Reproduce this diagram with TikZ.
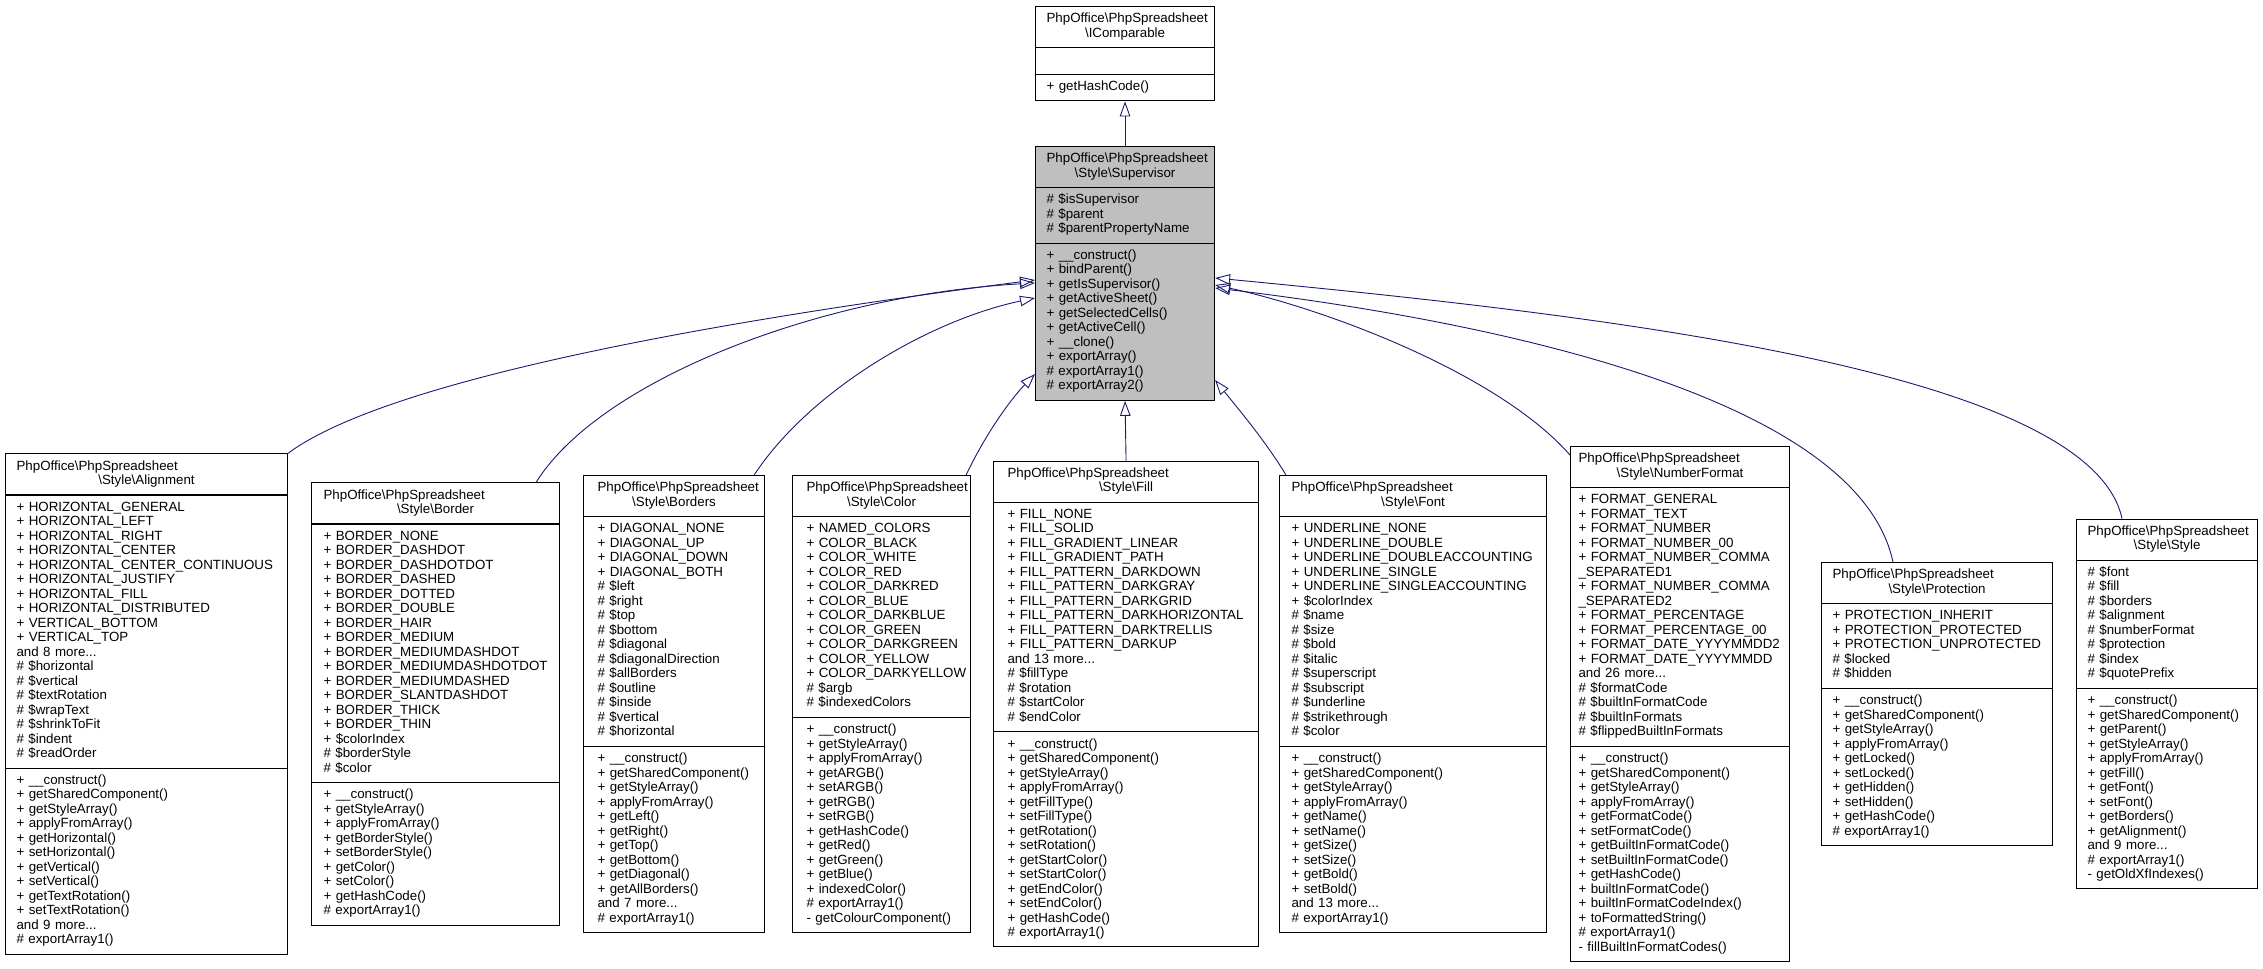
\documentclass[tikz,border=0pt]{standalone}
\usepackage{fontspec}
\setmainfont{Liberation Sans}
\usepackage{tikz}
\usetikzlibrary{shapes.multipart,arrows.meta}
\definecolor{edgeblue}{HTML}{191970}
\definecolor{basegray}{HTML}{BFBFBF}

\newcommand{\members}[1]{\begin{tabular}{@{}l@{}}#1\end{tabular}}
\newcommand{\classname}[1]{\mbox{\strut PhpOffice\textbackslash PhpSpreadsheet}\par\hbox to\hsize{\hss\strut\textbackslash #1\hss}}

\begin{document}
\begin{tikzpicture}[x=1pt,y=-1pt]

	\tikzstyle{classbox}=[draw,line width=1.1pt,rectangle split,rectangle split parts=3,inner ysep=5.5pt,font=\fontsize{13.33}{14.5}\selectfont]
	\tikzstyle{inherit}=[draw=edgeblue,line width=0.9pt,-{Triangle[open,length=15pt,width=10.5pt]}]

	\useasboundingbox (0,0) rectangle (2263,969);

	% base classes
	\node[classbox,anchor=north west,inner xsep=11pt,text width=157pt] (icomparable) at (1035,6)
		{\classname{IComparable}\nodepart{two}\strut\nodepart{three}\members{+ getHashCode()}};

	\node[classbox,fill=basegray,anchor=north west,inner xsep=11pt,text width=157pt] (supervisor) at (1035,146)
		{\classname{Style\textbackslash Supervisor}
		\nodepart{two}\members{\# \$isSupervisor\\\# \$parent\\\# \$parentPropertyName}
		\nodepart{three}\members{+ \_\_construct()\\+ bindParent()\\+ getIsSupervisor()\\+ getActiveSheet()\\+ getSelectedCells()\\+ getActiveCell()\\+ \_\_clone()\\+ exportArray()\\\# exportArray1()\\\# exportArray2()}};

	% derived classes
	\node[classbox,anchor=west,inner xsep=11pt,text width=260pt] (alignment) at (5,704)
		{\classname{Style\textbackslash Alignment}
		\nodepart{two}\members{+ HORIZONTAL\_GENERAL\\+ HORIZONTAL\_LEFT\\+ HORIZONTAL\_RIGHT\\+ HORIZONTAL\_CENTER\\+ HORIZONTAL\_CENTER\_CONTINUOUS\\+ HORIZONTAL\_JUSTIFY\\+ HORIZONTAL\_FILL\\+ HORIZONTAL\_DISTRIBUTED\\+ VERTICAL\_BOTTOM\\+ VERTICAL\_TOP\\and 8 more...\\\# \$horizontal\\\# \$vertical\\\# \$textRotation\\\# \$wrapText\\\# \$shrinkToFit\\\# \$indent\\\# \$readOrder}
		\nodepart{three}\members{+ \_\_construct()\\+ getSharedComponent()\\+ getStyleArray()\\+ applyFromArray()\\+ getHorizontal()\\+ setHorizontal()\\+ getVertical()\\+ setVertical()\\+ getTextRotation()\\+ setTextRotation()\\and 9 more...\\\# exportArray1()}};

	\node[classbox,anchor=west,inner xsep=12pt,text width=224pt] (border) at (311,704)
		{\classname{Style\textbackslash Border}
		\nodepart{two}\members{+ BORDER\_NONE\\+ BORDER\_DASHDOT\\+ BORDER\_DASHDOTDOT\\+ BORDER\_DASHED\\+ BORDER\_DOTTED\\+ BORDER\_DOUBLE\\+ BORDER\_HAIR\\+ BORDER\_MEDIUM\\+ BORDER\_MEDIUMDASHDOT\\+ BORDER\_MEDIUMDASHDOTDOT\\+ BORDER\_MEDIUMDASHED\\+ BORDER\_SLANTDASHDOT\\+ BORDER\_THICK\\+ BORDER\_THIN\\+ \$colorIndex\\\# \$borderStyle\\\# \$color}
		\nodepart{three}\members{+ \_\_construct()\\+ getStyleArray()\\+ applyFromArray()\\+ getBorderStyle()\\+ setBorderStyle()\\+ getColor()\\+ setColor()\\+ getHashCode()\\\# exportArray1()}};

	\node[classbox,anchor=west,inner xsep=14pt,text width=153pt] (borders) at (583,704)
		{\classname{Style\textbackslash Borders}
		\nodepart{two}\members{+ DIAGONAL\_NONE\\+ DIAGONAL\_UP\\+ DIAGONAL\_DOWN\\+ DIAGONAL\_BOTH\\\# \$left\\\# \$right\\\# \$top\\\# \$bottom\\\# \$diagonal\\\# \$diagonalDirection\\\# \$allBorders\\\# \$outline\\\# \$inside\\\# \$vertical\\\# \$horizontal}
		\nodepart{three}\members{+ \_\_construct()\\+ getSharedComponent()\\+ getStyleArray()\\+ applyFromArray()\\+ getLeft()\\+ getRight()\\+ getTop()\\+ getBottom()\\+ getDiagonal()\\+ getAllBorders()\\and 7 more...\\\# exportArray1()}};

	\node[classbox,anchor=west,inner xsep=14pt,text width=150pt] (color) at (792,704)
		{\classname{Style\textbackslash Color}
		\nodepart{two}\members{+ NAMED\_COLORS\\+ COLOR\_BLACK\\+ COLOR\_WHITE\\+ COLOR\_RED\\+ COLOR\_DARKRED\\+ COLOR\_BLUE\\+ COLOR\_DARKBLUE\\+ COLOR\_GREEN\\+ COLOR\_DARKGREEN\\+ COLOR\_YELLOW\\+ COLOR\_DARKYELLOW\\\# \$argb\\\# \$indexedColors}
		\nodepart{three}\members{+ \_\_construct()\\+ getStyleArray()\\+ applyFromArray()\\+ getARGB()\\+ setARGB()\\+ getRGB()\\+ setRGB()\\+ getHashCode()\\+ getRed()\\+ getGreen()\\+ getBlue()\\+ indexedColor()\\\# exportArray1()\\- getColourComponent()}};

	\node[classbox,anchor=west,inner xsep=14pt,text width=237pt] (fill) at (993,704)
		{\classname{Style\textbackslash Fill}
		\nodepart{two}\members{+ FILL\_NONE\\+ FILL\_SOLID\\+ FILL\_GRADIENT\_LINEAR\\+ FILL\_GRADIENT\_PATH\\+ FILL\_PATTERN\_DARKDOWN\\+ FILL\_PATTERN\_DARKGRAY\\+ FILL\_PATTERN\_DARKGRID\\+ FILL\_PATTERN\_DARKHORIZONTAL\\+ FILL\_PATTERN\_DARKTRELLIS\\+ FILL\_PATTERN\_DARKUP\\and 13 more...\\\# \$fillType\\\# \$rotation\\\# \$startColor\\\# \$endColor}
		\nodepart{three}\members{+ \_\_construct()\\+ getSharedComponent()\\+ getStyleArray()\\+ applyFromArray()\\+ getFillType()\\+ setFillType()\\+ getRotation()\\+ setRotation()\\+ getStartColor()\\+ setStartColor()\\+ getEndColor()\\+ setEndColor()\\+ getHashCode()\\\# exportArray1()}};

	\node[classbox,anchor=west,inner xsep=12pt,text width=243pt] (font) at (1279,704)
		{\classname{Style\textbackslash Font}
		\nodepart{two}\members{+ UNDERLINE\_NONE\\+ UNDERLINE\_DOUBLE\\+ UNDERLINE\_DOUBLEACCOUNTING\\+ UNDERLINE\_SINGLE\\+ UNDERLINE\_SINGLEACCOUNTING\\+ \$colorIndex\\\# \$name\\\# \$size\\\# \$bold\\\# \$italic\\\# \$superscript\\\# \$subscript\\\# \$underline\\\# \$strikethrough\\\# \$color}
		\nodepart{three}\members{+ \_\_construct()\\+ getSharedComponent()\\+ getStyleArray()\\+ applyFromArray()\\+ getName()\\+ setName()\\+ getSize()\\+ setSize()\\+ getBold()\\+ setBold()\\and 13 more...\\\# exportArray1()}};

	\node[classbox,anchor=west,inner xsep=8pt,text width=203pt] (numberformat) at (1570,704)
		{\classname{Style\textbackslash NumberFormat}
		\nodepart{two}\members{+ FORMAT\_GENERAL\\+ FORMAT\_TEXT\\+ FORMAT\_NUMBER\\+ FORMAT\_NUMBER\_00\\+ FORMAT\_NUMBER\_COMMA\\\_SEPARATED1\\+ FORMAT\_NUMBER\_COMMA\\\_SEPARATED2\\+ FORMAT\_PERCENTAGE\\+ FORMAT\_PERCENTAGE\_00\\+ FORMAT\_DATE\_YYYYMMDD2\\+ FORMAT\_DATE\_YYYYMMDD\\and 26 more...\\\# \$formatCode\\\# \$builtInFormatCode\\\# \$builtInFormats\\\# \$flippedBuiltInFormats}
		\nodepart{three}\members{+ \_\_construct()\\+ getSharedComponent()\\+ getStyleArray()\\+ applyFromArray()\\+ getFormatCode()\\+ setFormatCode()\\+ getBuiltInFormatCode()\\+ setBuiltInFormatCode()\\+ getHashCode()\\+ builtInFormatCode()\\+ builtInFormatCodeIndex()\\+ toFormattedString()\\\# exportArray1()\\- fillBuiltInFormatCodes()}};

	\node[classbox,anchor=west,inner xsep=11pt,text width=209pt] (protection) at (1821,704)
		{\classname{Style\textbackslash Protection}
		\nodepart{two}\members{+ PROTECTION\_INHERIT\\+ PROTECTION\_PROTECTED\\+ PROTECTION\_UNPROTECTED\\\# \$locked\\\# \$hidden}
		\nodepart{three}\members{+ \_\_construct()\\+ getSharedComponent()\\+ getStyleArray()\\+ applyFromArray()\\+ getLocked()\\+ setLocked()\\+ getHidden()\\+ setHidden()\\+ getHashCode()\\\# exportArray1()}};

	\node[classbox,anchor=west,inner xsep=11pt,text width=159pt] (style) at (2076,704)
		{\classname{Style\textbackslash Style}
		\nodepart{two}\members{\# \$font\\\# \$fill\\\# \$borders\\\# \$alignment\\\# \$numberFormat\\\# \$protection\\\# \$index\\\# \$quotePrefix}
		\nodepart{three}\members{+ \_\_construct()\\+ getSharedComponent()\\+ getParent()\\+ getStyleArray()\\+ applyFromArray()\\+ getFill()\\+ getFont()\\+ setFont()\\+ getBorders()\\+ getAlignment()\\and 9 more...\\\# exportArray1()\\- getOldXfIndexes()}};

	% inheritance
	\draw[inherit] (supervisor.north) -- (icomparable.south);
	\draw[inherit] (alignment.north east) .. controls (400,370) and (800,310) .. ([yshift=-134pt]supervisor.north west);
	\draw[inherit] ([xshift=-24pt]border.north east) .. controls (600,380) and (820,295) .. ([yshift=-137pt]supervisor.north west);
	\draw[inherit] ([xshift=-11pt]borders.north east) .. controls (810,390) and (930,320) .. ([yshift=-152pt]supervisor.north west);
	\draw[inherit] ([xshift=-5pt]color.north east) .. controls (985,435) and (1010,400) .. ([yshift=-228pt]supervisor.north west);
	\draw[inherit] (fill.north) -- (supervisor.south);
	\draw[inherit] ([xshift=7pt]font.north west) .. controls (1265,440) and (1235,405) .. ([yshift=-234pt]supervisor.north east);
	\draw[inherit] ([yshift=-9pt]numberformat.north west) .. controls (1500,375) and (1330,310) .. ([yshift=-139pt]supervisor.north east);
	\draw[inherit] ([xshift=72pt]protection.north west) .. controls (1855,385) and (1440,315) .. ([yshift=-142pt]supervisor.north east);
	\draw[inherit] ([xshift=46pt]style.north west) .. controls (2090,370) and (1600,315) .. ([yshift=-132pt]supervisor.north east);

\end{tikzpicture}
\end{document}
